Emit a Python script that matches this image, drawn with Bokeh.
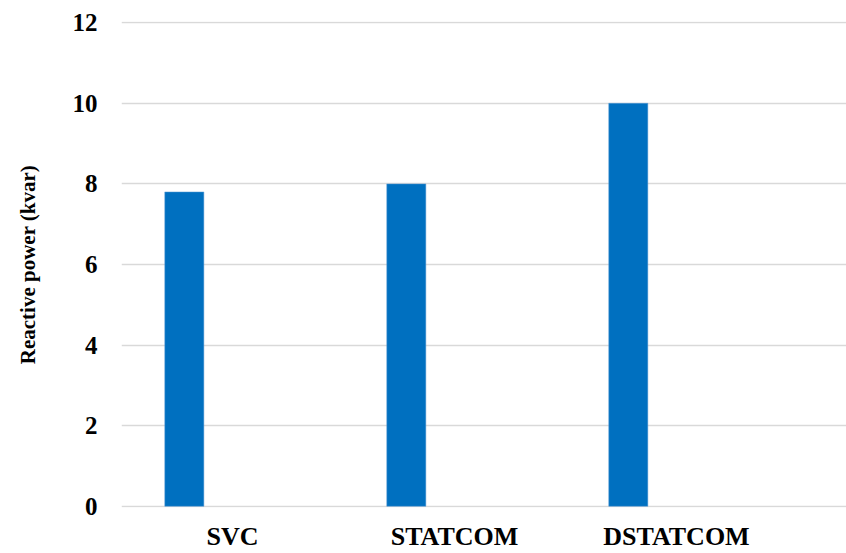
from bokeh.plotting import figure
from bokeh.models import ColumnDataSource, FixedTicker, Range1d
from bokeh.embed import file_html
from bokeh.resources import INLINE

categories = ["SVC", "STATCOM", "DSTATCOM"]
values = [7.8, 8.0, 10.0]
y_ticks = [0, 2, 4, 6, 8, 10, 12]

slot_centers = [i + 0.5 for i in range(len(categories))]
bar_x = [c - 0.217 for c in slot_centers]

src = ColumnDataSource(dict(x=bar_x, top=values, cat=categories))

p = figure(width=846, height=553, output_backend="svg", toolbar_location=None,
           x_range=Range1d(0, 3.266), y_range=Range1d(-0.03, 12.03),
           min_border_left=121, min_border_right=0, min_border_top=21,
           min_border_bottom=45)
p.outline_line_color = None
p.background_fill_color = "white"
p.border_fill_color = "white"

p.vbar(x="x", top="top", bottom=0, width=0.176, source=src,
       fill_color="#0070C0", line_color="#5B9BD5", line_width=0.5)

font = "Liberation Serif"

p.xgrid.grid_line_color = None
p.ygrid.grid_line_color = "#d9d9d9"
p.ygrid.grid_line_width = 1.5
p.ygrid.ticker = FixedTicker(ticks=y_ticks)

p.yaxis.ticker = FixedTicker(ticks=y_ticks)
p.yaxis.axis_line_color = None
p.yaxis.major_tick_line_color = None
p.yaxis.minor_tick_line_color = None
p.yaxis.major_tick_out = 0
p.yaxis.major_label_standoff = 24
p.yaxis.major_label_text_font = font
p.yaxis.major_label_text_font_style = "bold"
p.yaxis.major_label_text_font_size = "25px"
p.yaxis.major_label_text_color = "black"
p.yaxis.axis_label = "Reactive power (kvar)"
p.yaxis.axis_label_text_font = font
p.yaxis.axis_label_text_font_style = "bold"
p.yaxis.axis_label_text_font_size = "21px"
p.yaxis.axis_label_text_color = "black"
p.yaxis.axis_label_standoff = 30

p.xaxis.ticker = FixedTicker(ticks=slot_centers)
p.xaxis.major_label_overrides = {c: lab for c, lab in zip(slot_centers, categories)}
p.xaxis.axis_line_color = None
p.xaxis.major_tick_line_color = None
p.xaxis.minor_tick_line_color = None
p.xaxis.major_tick_out = 0
p.xaxis.major_label_standoff = 14
p.xaxis.major_label_text_font = font
p.xaxis.major_label_text_font_style = "bold"
p.xaxis.major_label_text_font_size = "26px"
p.xaxis.major_label_text_color = "black"

open("out.html", "w").write(file_html(p, INLINE))
